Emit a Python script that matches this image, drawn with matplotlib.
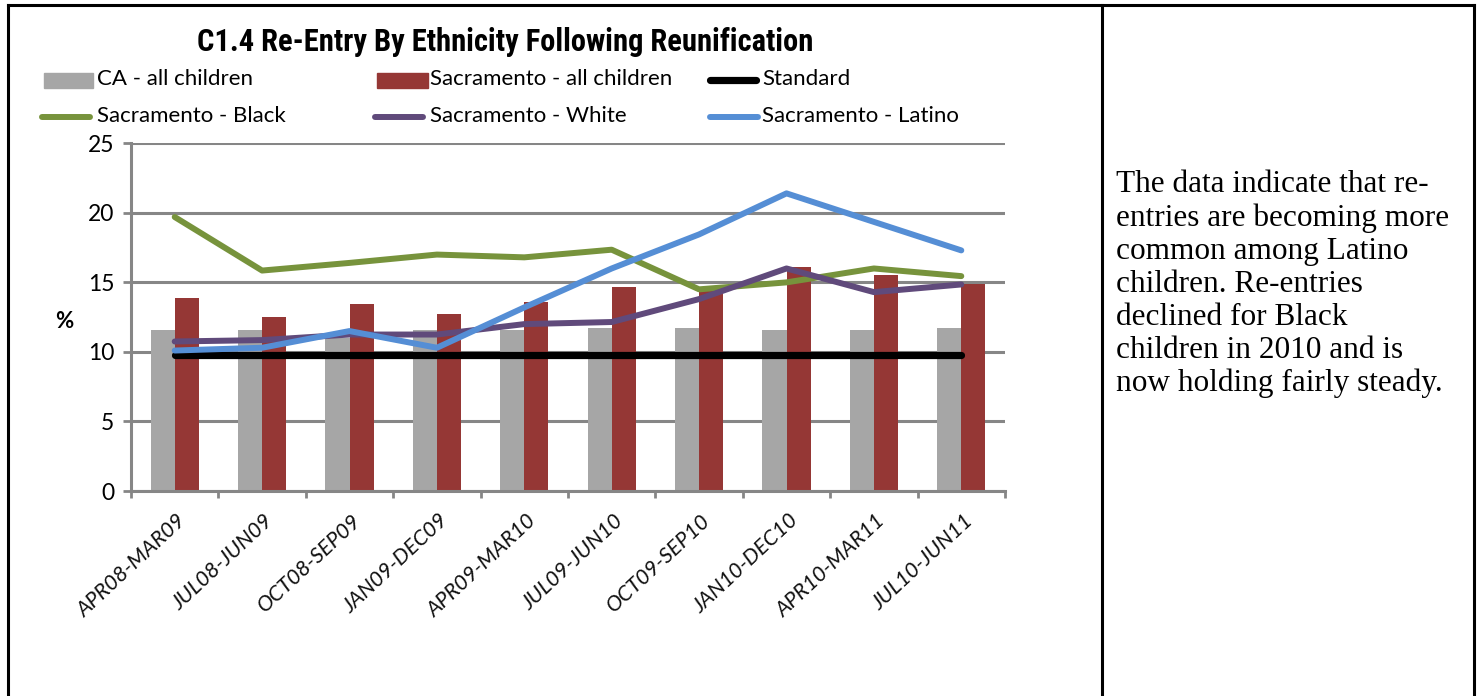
import matplotlib
matplotlib.use("Agg")
import matplotlib.pyplot as plt
from matplotlib import font_manager
import numpy as np
from matplotlib.lines import Line2D
from matplotlib.patches import Rectangle

# ---- data ----
categories = ["APR08-MAR09", "JUL08-JUN09", "OCT08-SEP09", "JAN09-DEC09", "APR09-MAR10",
              "JUL09-JUN10", "OCT09-SEP10", "JAN10-DEC10", "APR10-MAR11", "JUL10-JUN11"]
ca_all = [11.6, 11.6, 11.0, 11.6, 11.6, 11.7, 11.7, 11.6, 11.6, 11.7]
sac_all = [13.9, 12.5, 13.45, 12.7, 13.6, 14.7, 14.6, 16.1, 15.5, 14.9]
standard = [9.8] * 10
sac_black = [19.7, 15.85, 16.4, 17.0, 16.8, 17.35, 14.5, 15.0, 16.0, 15.45]
sac_white = [10.75, 10.85, 11.25, 11.25, 12.0, 12.15, 13.8, 16.0, 14.3, 14.85]
sac_latino = [10.1, 10.3, 11.5, 10.3, 13.2, 16.0, 18.45, 21.4, 19.35, 17.3]
yticks = [0, 5, 10, 15, 20, 25]

W, H = 1480, 696
fig = plt.figure(figsize=(W / 100, H / 100), dpi=100)
fig.patch.set_facecolor("white")

def fx(px):
    return px / W

def fy(py):
    return 1 - py / H

available = {f.name for f in font_manager.fontManager.ttflist}
narrow_name = None
for cand in ["Liberation Sans Narrow", "Roboto Condensed", "Open Sans Condensed",
             "Noto Sans Condensed", "DejaVu Sans Condensed"]:
    if cand in available:
        narrow_name = cand
        break

sans = ["Lato", "DejaVu Sans"]
serif = ["Liberation Serif", "DejaVu Serif"]

GRID = "#868686"
GRAY = "#A6A6A6"
RED = "#953735"
GREEN = "#77933C"
PURPLE = "#604A7B"
BLUE = "#558ED5"

ax = fig.add_axes([fx(131), fy(491), fx(1005) - fx(131), fy(143.3) - fy(491)])
x = np.arange(len(categories))
bw = 0.275
ax.bar(x - bw / 2, ca_all, width=bw, color=GRAY, zorder=2)
ax.bar(x + bw / 2, sac_all, width=bw, color=RED, zorder=2)
ax.plot(x, standard, color="black", lw=5.2, zorder=3, solid_capstyle="round")
ax.plot(x, sac_black, color=GREEN, lw=4.3, zorder=4, solid_joinstyle="round", solid_capstyle="round")
ax.plot(x, sac_white, color=PURPLE, lw=4.3, zorder=5, solid_joinstyle="round", solid_capstyle="round")
ax.plot(x, sac_latino, color=BLUE, lw=4.3, zorder=6, solid_joinstyle="round", solid_capstyle="round")

ax.set_xlim(-0.5, len(categories) - 0.5)
ax.set_ylim(0, 25)
ax.set_yticks(yticks)
ax.yaxis.grid(True, color=GRID, lw=2.2, zorder=0)
ax.set_axisbelow(True)
for s in ["top", "right"]:
    ax.spines[s].set_visible(False)
for s in ["left", "bottom"]:
    ax.spines[s].set_color(GRID)
    ax.spines[s].set_linewidth(2.2)
ax.tick_params(axis="y", length=6, width=2, color=GRID, labelsize=16.5, pad=6)
for lab in ax.get_yticklabels():
    lab.set_family(sans)
ax.set_xticks(np.arange(-0.5, len(categories), 1.0))
ax.set_xticklabels([])
ax.tick_params(axis="x", length=5, width=2, color=GRID)
for i, c in enumerate(categories):
    ax.text(i + 0.02, -1.4, c, rotation=43, ha="right", va="top", rotation_mode="anchor",
            fontsize=15.5, family=sans, style="italic", color="#111111")
fig.text(fx(64), fy(322), "%", fontsize=16, fontweight="bold", family=sans,
         ha="center", va="center")

# title
if narrow_name:
    fig.text(fx(505), fy(42), "C1.4 Re-Entry By Ethnicity Following Reunification",
             fontsize=22, fontweight="bold", family=[narrow_name, "DejaVu Sans"],
             ha="center", va="center")
else:
    fig.text(fx(505), fy(42), "C1.4 Re-Entry By Ethnicity Following Reunification",
             fontsize=18.5, fontweight="bold", family=sans, ha="center", va="center")

# legend (manual)
leg_font = dict(fontsize=16, family=sans, va="center", ha="left")
fig.patches.append(Rectangle((fx(44), fy(88)), fx(49), fy(73) - fy(88), color=GRAY, transform=fig.transFigure))
fig.patches.append(Rectangle((fx(377), fy(88)), fx(51), fy(73) - fy(88), color=RED, transform=fig.transFigure))
fig.text(fx(97), fy(79), "CA - all children", **leg_font)
fig.text(fx(430), fy(79), "Sacramento - all children", **leg_font)
fig.lines.append(Line2D([fx(710), fx(756)], [fy(80), fy(80)], color="black", lw=5.2,
                        solid_capstyle="round", transform=fig.transFigure))
fig.text(fx(762), fy(79), "Standard", **leg_font)
for x0, col in [(42, GREEN), (375, PURPLE), (710, BLUE)]:
    fig.lines.append(Line2D([fx(x0), fx(x0 + 48)], [fy(117), fy(117)], color=col, lw=4.3,
                            solid_capstyle="round", transform=fig.transFigure))
fig.text(fx(97), fy(116), "Sacramento - Black", **leg_font)
fig.text(fx(430), fy(116), "Sacramento - White", **leg_font)
fig.text(fx(762), fy(116), "Sacramento - Latino", **leg_font)

# right-hand commentary
comment = ["The data indicate that re-", "entries are becoming more", "common among Latino",
           "children. Re-entries", "declined for Black", "children in 2010 and is",
           "now holding fairly steady."]
for k, line in enumerate(comment):
    fig.text(fx(1116), fy(185 + k * 33.1), line, fontsize=22.5, family=serif,
             ha="left", va="center")

# table frame
frame_kw = dict(color="black", lw=2.2, transform=fig.transFigure, solid_capstyle="projecting")
fig.lines.append(Line2D([fx(8), fx(1474)], [fy(5), fy(5)], **frame_kw))
fig.lines.append(Line2D([fx(8), fx(8)], [fy(5), fy(700)], **frame_kw))
fig.lines.append(Line2D([fx(1102), fx(1102)], [fy(5), fy(700)], **frame_kw))
fig.lines.append(Line2D([fx(1474), fx(1474)], [fy(5), fy(700)], **frame_kw))

fig.savefig("out.png", dpi=100, facecolor="white")
